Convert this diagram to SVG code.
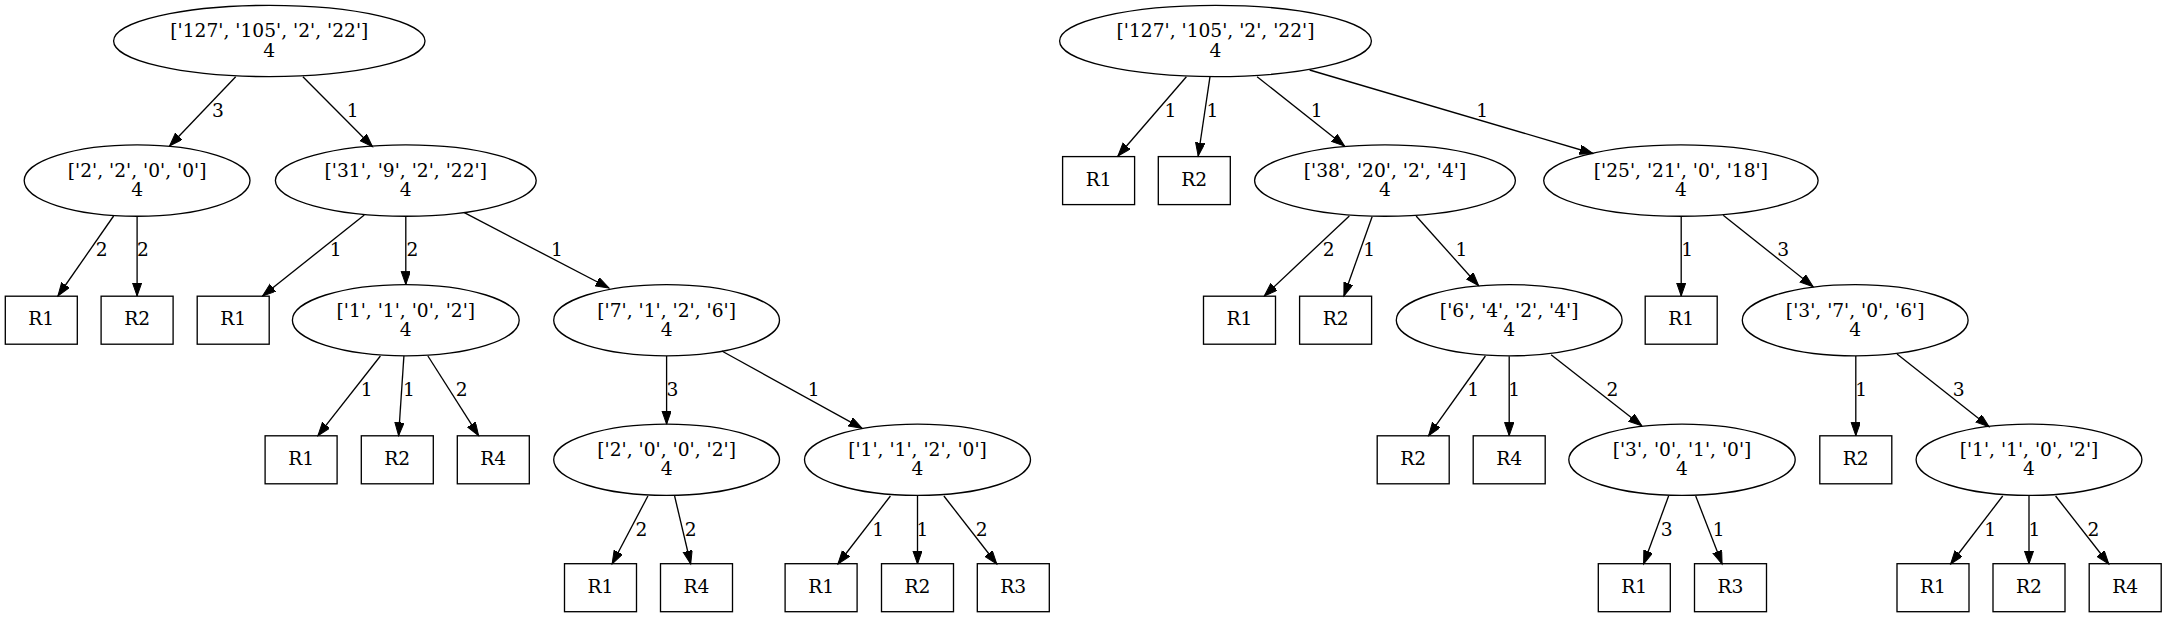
<svg xmlns="http://www.w3.org/2000/svg" width="2167" height="617" viewBox="0 0 2167 617">
<defs>
<marker id="ah" markerUnits="userSpaceOnUse" markerWidth="15" markerHeight="11" refX="13.33" refY="4.67" orient="auto">
<path d="M0,0 L13.33,4.67 L0,9.33 Z" fill="#000" stroke="#000" stroke-width="1"/>
</marker>
</defs>
<style>
text{font-family:"DejaVu Serif","Liberation Serif",serif;font-size:18.67px;fill:#000;text-anchor:middle}
g ellipse,g rect{fill:none;stroke:#000;stroke-width:1.33}
#edges line{stroke:#000;stroke-width:1.33;marker-end:url(#ah)}
</style>
<rect x="0" y="0" width="2167" height="617" style="fill:#fff;stroke:none"/>
<g id="edges">
<line x1="235.7" y1="76.7" x2="169.6" y2="146"/>
<line x1="302.9" y1="76.7" x2="372.5" y2="146.7"/>
<line x1="113.6" y1="216" x2="57.9" y2="296"/>
<line x1="137.1" y1="216.3" x2="137.1" y2="296"/>
<line x1="364.3" y1="215" x2="262.5" y2="296"/>
<line x1="405.8" y1="216.3" x2="405.8" y2="284.6"/>
<line x1="464.3" y1="212.7" x2="609" y2="288"/>
<line x1="666.6" y1="356" x2="666.6" y2="424.2"/>
<line x1="721.8" y1="351" x2="862.1" y2="428.3"/>
<line x1="647.9" y1="496" x2="612.1" y2="564"/>
<line x1="674.6" y1="496" x2="690.7" y2="564"/>
<line x1="890.4" y1="496" x2="837.9" y2="564"/>
<line x1="917.5" y1="496" x2="917.5" y2="564"/>
<line x1="943.9" y1="496" x2="996.8" y2="564"/>
<line x1="380.4" y1="356" x2="317.9" y2="435.7"/>
<line x1="403.9" y1="356" x2="398.6" y2="435.7"/>
<line x1="427.9" y1="356" x2="478.6" y2="435.7"/>
<line x1="1186.4" y1="76.7" x2="1117.9" y2="156"/>
<line x1="1210" y1="76.7" x2="1198.2" y2="156"/>
<line x1="1257.1" y1="76.7" x2="1344.6" y2="146"/>
<line x1="1309.6" y1="70" x2="1593" y2="153.5"/>
<line x1="1349.3" y1="216" x2="1264.3" y2="296"/>
<line x1="1372.1" y1="216.7" x2="1343.9" y2="296"/>
<line x1="1416.1" y1="216" x2="1478.6" y2="285.7"/>
<line x1="1681.2" y1="216.3" x2="1681.2" y2="296"/>
<line x1="1723.2" y1="215.3" x2="1813.2" y2="286.7"/>
<line x1="1485.4" y1="356" x2="1428.6" y2="435.7"/>
<line x1="1509.2" y1="356.3" x2="1509.2" y2="435.7"/>
<line x1="1551.1" y1="354.7" x2="1641.8" y2="425.7"/>
<line x1="1668.6" y1="496" x2="1643.6" y2="564"/>
<line x1="1695.7" y1="496" x2="1722.1" y2="564"/>
<line x1="1855.8" y1="356" x2="1855.8" y2="435.7"/>
<line x1="1897" y1="354" x2="1989.1" y2="426.7"/>
<line x1="2002.7" y1="496" x2="1950.6" y2="564"/>
<line x1="2029" y1="496" x2="2029" y2="564"/>
<line x1="2055.6" y1="496" x2="2108.8" y2="564"/>
<text x="218" y="116.7">3</text>
<text x="352.7" y="116.7">1</text>
<text x="101.8" y="256.3">2</text>
<text x="142.9" y="256.3">2</text>
<text x="335.7" y="256.3">1</text>
<text x="412.5" y="256.3">2</text>
<text x="557" y="256.3">1</text>
<text x="672.5" y="395.9">3</text>
<text x="813.6" y="395.9">1</text>
<text x="641.4" y="535.5">2</text>
<text x="690.7" y="535.5">2</text>
<text x="878.2" y="535.5">1</text>
<text x="922.5" y="535.5">1</text>
<text x="981.8" y="535.5">2</text>
<text x="366.8" y="395.9">1</text>
<text x="408.9" y="395.9">1</text>
<text x="461.8" y="395.9">2</text>
<text x="1170.4" y="116.7">1</text>
<text x="1212.5" y="116.7">1</text>
<text x="1316.8" y="116.7">1</text>
<text x="1482.1" y="116.7">1</text>
<text x="1328.6" y="256.3">2</text>
<text x="1369.3" y="256.3">1</text>
<text x="1461.4" y="256.3">1</text>
<text x="1687.1" y="256.3">1</text>
<text x="1783.2" y="256.3">3</text>
<text x="1473.2" y="395.9">1</text>
<text x="1514.3" y="395.9">1</text>
<text x="1612.5" y="395.9">2</text>
<text x="1666.8" y="535.5">3</text>
<text x="1718.6" y="535.5">1</text>
<text x="1861.3" y="395.9">1</text>
<text x="1958.8" y="395.9">3</text>
<text x="1990.2" y="535.5">1</text>
<text x="2034.5" y="535.5">1</text>
<text x="2093.4" y="535.5">2</text>
</g>
<g id="L_root"><ellipse cx="269.3" cy="41" rx="155.7" ry="35.65"/><text x="269.3" y="37.3">['127', '105', '2', '22']</text><text x="269.3" y="56.6">4</text></g>
<g id="L_2200"><ellipse cx="137.1" cy="180.6" rx="112.9" ry="35.65"/><text x="137.1" y="176.9">['2', '2', '0', '0']</text><text x="137.1" y="196.2">4</text></g>
<g id="L_31922"><ellipse cx="405.8" cy="180.6" rx="130.4" ry="35.65"/><text x="405.8" y="176.9">['31', '9', '2', '22']</text><text x="405.8" y="196.2">4</text></g>
<g id="L_R1a"><rect x="5.3" y="296.2" width="72" height="48"/><text x="41.3" y="325.3">R1</text></g>
<g id="L_R2a"><rect x="101.1" y="296.2" width="72" height="48"/><text x="137.1" y="325.3">R2</text></g>
<g id="L_R1b"><rect x="197.2" y="296.2" width="72" height="48"/><text x="233.2" y="325.3">R1</text></g>
<g id="L_1102"><ellipse cx="405.8" cy="320.2" rx="113.4" ry="35.65"/><text x="405.8" y="316.5">['1', '1', '0', '2']</text><text x="405.8" y="335.8">4</text></g>
<g id="L_7126"><ellipse cx="666.6" cy="320.2" rx="112.9" ry="35.65"/><text x="666.6" y="316.5">['7', '1', '2', '6']</text><text x="666.6" y="335.8">4</text></g>
<g id="L_R1c"><rect x="265.1" y="435.8" width="72" height="48"/><text x="301.1" y="464.9">R1</text></g>
<g id="L_R2c"><rect x="361.3" y="435.8" width="72" height="48"/><text x="397.3" y="464.9">R2</text></g>
<g id="L_R4c"><rect x="457.3" y="435.8" width="72" height="48"/><text x="493.3" y="464.9">R4</text></g>
<g id="L_2002"><ellipse cx="666.6" cy="459.8" rx="112.9" ry="35.65"/><text x="666.6" y="456.1">['2', '0', '0', '2']</text><text x="666.6" y="475.4">4</text></g>
<g id="L_1120"><ellipse cx="917.5" cy="459.8" rx="113" ry="35.65"/><text x="917.5" y="456.1">['1', '1', '2', '0']</text><text x="917.5" y="475.4">4</text></g>
<g id="L_R1d"><rect x="564.5" y="563.7" width="72" height="48"/><text x="600.5" y="592.8">R1</text></g>
<g id="L_R4d"><rect x="660.5" y="563.7" width="72" height="48"/><text x="696.5" y="592.8">R4</text></g>
<g id="L_R1e"><rect x="785.1" y="563.7" width="72" height="48"/><text x="821.1" y="592.8">R1</text></g>
<g id="L_R2e"><rect x="881.5" y="563.7" width="72" height="48"/><text x="917.5" y="592.8">R2</text></g>
<g id="L_R3e"><rect x="977.3" y="563.7" width="72" height="48"/><text x="1013.3" y="592.8">R3</text></g>
<g id="R_root"><ellipse cx="1215.5" cy="41" rx="155.9" ry="35.65"/><text x="1215.5" y="37.3">['127', '105', '2', '22']</text><text x="1215.5" y="56.6">4</text></g>
<g id="R_R1a"><rect x="1062.6" y="156.6" width="72" height="48"/><text x="1098.6" y="185.7">R1</text></g>
<g id="R_R2a"><rect x="1158.3" y="156.6" width="72" height="48"/><text x="1194.3" y="185.7">R2</text></g>
<g id="R_382024"><ellipse cx="1385" cy="180.6" rx="130.4" ry="35.65"/><text x="1385" y="176.9">['38', '20', '2', '4']</text><text x="1385" y="196.2">4</text></g>
<g id="R_2521018"><ellipse cx="1680.9" cy="180.6" rx="137.2" ry="35.65"/><text x="1680.9" y="176.9">['25', '21', '0', '18']</text><text x="1680.9" y="196.2">4</text></g>
<g id="R_R1b"><rect x="1203.5" y="296.2" width="72" height="48"/><text x="1239.5" y="325.3">R1</text></g>
<g id="R_R2b"><rect x="1299.6" y="296.2" width="72" height="48"/><text x="1335.6" y="325.3">R2</text></g>
<g id="R_6424"><ellipse cx="1509.2" cy="320.2" rx="112.9" ry="35.65"/><text x="1509.2" y="316.5">['6', '4', '2', '4']</text><text x="1509.2" y="335.8">4</text></g>
<g id="R_R1c"><rect x="1645.2" y="296.2" width="72" height="48"/><text x="1681.2" y="325.3">R1</text></g>
<g id="R_3706"><ellipse cx="1855.2" cy="320.2" rx="112.9" ry="35.65"/><text x="1855.2" y="316.5">['3', '7', '0', '6']</text><text x="1855.2" y="335.8">4</text></g>
<g id="R_R2d"><rect x="1377.2" y="435.8" width="72" height="48"/><text x="1413.2" y="464.9">R2</text></g>
<g id="R_R4d"><rect x="1473.2" y="435.8" width="72" height="48"/><text x="1509.2" y="464.9">R4</text></g>
<g id="R_3010"><ellipse cx="1682" cy="459.8" rx="113.2" ry="35.65"/><text x="1682" y="456.1">['3', '0', '1', '0']</text><text x="1682" y="475.4">4</text></g>
<g id="R_R2e"><rect x="1819.8" y="435.8" width="72" height="48"/><text x="1855.8" y="464.9">R2</text></g>
<g id="R_1102"><ellipse cx="2029" cy="459.8" rx="112.9" ry="35.65"/><text x="2029" y="456.1">['1', '1', '0', '2']</text><text x="2029" y="475.4">4</text></g>
<g id="R_R1f"><rect x="1598.3" y="563.7" width="72" height="48"/><text x="1634.3" y="592.8">R1</text></g>
<g id="R_R3f"><rect x="1694.5" y="563.7" width="72" height="48"/><text x="1730.5" y="592.8">R3</text></g>
<g id="R_R1g"><rect x="1897" y="563.7" width="72" height="48"/><text x="1933" y="592.8">R1</text></g>
<g id="R_R2g"><rect x="1993" y="563.7" width="72" height="48"/><text x="2029" y="592.8">R2</text></g>
<g id="R_R4g"><rect x="2089.2" y="563.7" width="72" height="48"/><text x="2125.2" y="592.8">R4</text></g>
</svg>
